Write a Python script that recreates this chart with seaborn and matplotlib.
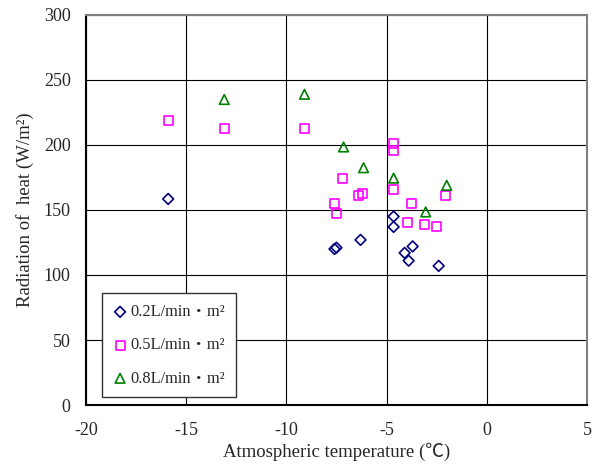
import matplotlib
matplotlib.use("Agg")
import matplotlib.pyplot as plt
import seaborn as sns

# Data
flow_labels = ["0.2L/min・m²", "0.5L/min・m²", "0.8L/min・m²"]

temp_02 = [-15.9, -7.6, -7.5, -6.3, -4.65, -4.65, -4.1, -3.7, -3.9, -2.4]
heat_02 = [158.5, 120, 121, 127, 145, 137, 117, 122, 111, 107]

temp_05 = [-15.9, -13.1, -9.1, -4.65, -4.65, -7.2, -6.2, -6.4, -7.6, -7.5,
           -4.65, -3.75, -2.05, -3.95, -3.1, -2.5]
heat_05 = [219, 213, 213, 201, 196, 174.5, 163, 161.5, 155, 147.5,
           165.5, 155, 161.5, 140.5, 139, 137]

temp_08 = [-13.1, -9.1, -7.15, -6.15, -4.65, -2.0, -3.05]
heat_08 = [235, 239, 198.5, 182.5, 174.5, 169, 148.5]

colors = ["#000080", "#FF00FF", "#008000"]
markers = ["D", "s", "^"]
sizes = [30, 42, 48]

sns.set_style("white")
plt.rcParams["font.family"] = ["Liberation Serif", "Noto Sans CJK JP", "DejaVu Sans"]
plt.rcParams["axes.unicode_minus"] = False

fig = plt.figure(figsize=(5.98, 4.68), dpi=100)
ax = fig.add_axes([0.1438, 0.1346, 0.8378, 0.8334])

series = [(temp_02, heat_02), (temp_05, heat_05), (temp_08, heat_08)]
for (xs, ys), lab, col, mk, sz in zip(series, flow_labels, colors, markers, sizes):
    sns.scatterplot(x=xs, y=ys, ax=ax, marker=mk, s=sz, facecolor="none",
                    edgecolor=col, linewidth=1.2, label=lab, zorder=3)

ax.set_xlim(-20, 5)
ax.set_ylim(0, 300)
ax.set_xticks(range(-20, 6, 5))
ax.set_yticks(range(0, 301, 50))
ax.grid(True, color="black", linewidth=0.8)
ax.set_axisbelow(True)
for side in ["left", "bottom"]:
    ax.spines[side].set_color("black")
    ax.spines[side].set_linewidth(1.5)
for side in ["top", "right"]:
    ax.spines[side].set_color("#808080")
    ax.spines[side].set_linewidth(1.5)
ax.tick_params(axis="both", labelsize=13, length=0)
ax.tick_params(axis="x", pad=12)
ax.tick_params(axis="y", pad=11)

ax.set_xlabel("Atmospheric temperature (℃)", fontsize=13.5, labelpad=3)
ax.set_ylabel("Radiation of  heat (W/m²)", fontsize=13.5, labelpad=7)

leg = ax.legend(loc="lower left", bbox_to_anchor=(0.032, 0.02), fontsize=11.8,
                frameon=True, fancybox=False, edgecolor="#333333", framealpha=1,
                handletextpad=0.2, borderpad=0.65, labelspacing=1.05,
                handlelength=0.9, borderaxespad=0)
leg.get_frame().set_linewidth(1.0)

fig.savefig("out.png", dpi=100)
